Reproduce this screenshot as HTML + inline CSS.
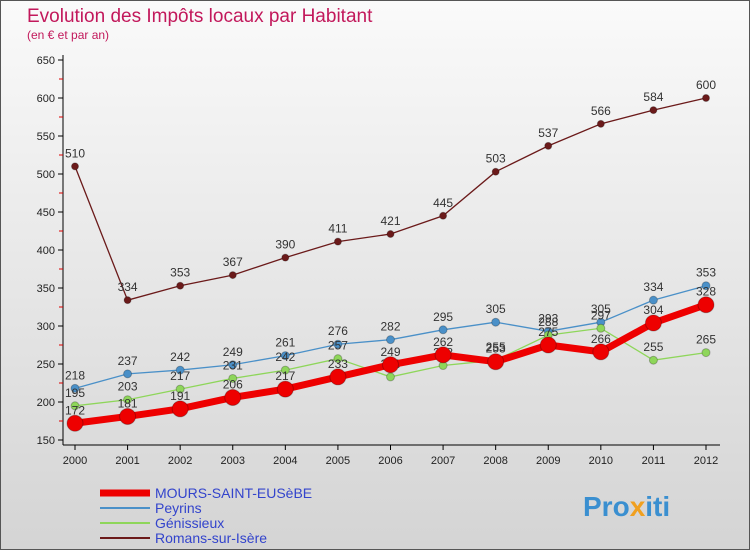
<!DOCTYPE html>
<html><head><meta charset="utf-8"><style>
body{margin:0;width:750px;height:550px;overflow:hidden;font-family:"Liberation Sans",sans-serif}
svg text{font-family:"Liberation Sans",sans-serif}
</style></head><body>
<svg id="c" width="750" height="550" xmlns="http://www.w3.org/2000/svg">
<defs><linearGradient id="bg" x1="0" y1="0" x2="0" y2="1"><stop offset="0" stop-color="#fafafa"/><stop offset="1" stop-color="#d4d4d4"/></linearGradient></defs>
<rect x="0.5" y="0.5" width="749" height="549" fill="url(#bg)" stroke="#555"/>
<text x="27" y="22" font-size="19" fill="#c2185b">Evolution des Impôts locaux par Habitant</text>
<text x="27" y="39" font-size="12" fill="#c2185b">(en € et par an)</text>
<g id="axes"></g><g id="series"></g><g id="legend"></g>
<text x="583" y="516" font-size="28" font-weight="bold" fill="#3a8fd0">Pro<tspan fill="#f0a020">x</tspan>iti</text>
</svg>
<script>
const years=[2000,2001,2002,2003,2004,2005,2006,2007,2008,2009,2010,2011,2012];
const yTicks=[150,200,250,300,350,400,450,500,550,600,650];
const mours=[172,181,191,206,217,233,249,262,253,275,266,304,328];
const peyrins=[218,237,242,249,261,276,282,295,305,293,305,334,353];
const genissieux=[195,203,217,231,242,257,233,248,255,288,297,255,265];
const romans=[510,334,353,367,390,411,421,445,503,537,566,584,600];
const NS="http://www.w3.org/2000/svg";
const X=i=>75+i*(706-75)/12;
const Y=v=>440-(v-150)*0.76;
function mk(tag,attrs,parent){const e=document.createElementNS(NS,tag);for(const k in attrs)e.setAttribute(k,attrs[k]);parent.appendChild(e);return e;}
const ax=document.getElementById('axes');
let yl=mk('line',{x1:63,y1:55,x2:63,y2:445,stroke:'#000'},ax);


let xl=mk('line',{x1:63,y1:445,x2:720,y2:445,stroke:'#000'},ax);


yTicks.forEach(v=>{
 mk('line',{x1:58,y1:Y(v),x2:63,y2:Y(v),stroke:'#000'},ax);
 if(v<650)mk('line',{x1:59,y1:Y(v+25),x2:63,y2:Y(v+25),stroke:'#d00'},ax);
 const t=mk('text',{x:55,y:Y(v)+4,'font-size':11,'text-anchor':'end',fill:'#222'},ax);
 t.textContent=v;
 
 
});
years.forEach((yr,i)=>{
 mk('line',{x1:X(i),y1:445,x2:X(i),y2:450,stroke:'#000'},ax);
 const t=mk('text',{x:X(i),y:464,'font-size':11,'text-anchor':'middle',fill:'#222'},ax);
 t.textContent=yr;
 
 
});
const sg=document.getElementById('series');
const defs=[
 {name:'romans',data:romans,color:'#6b1a1a',w:1.3,r:3.5},
 {name:'peyrins',data:peyrins,color:'#4a90c8',w:1.3,r:4},
 {name:'genissieux',data:genissieux,color:'#8ed65a',w:1.3,r:4},
 {name:'mours',data:mours,color:'#ee0000',w:7,r:8}];
defs.forEach(s=>{
 const g=mk('g',{},sg);
 
 
 const pl=mk('polyline',{points:s.data.map((v,i)=>X(i)+','+Y(v)).join(' '),fill:'none',stroke:s.color,'stroke-width':s.w},g);
 
 
 s.data.forEach((v,i)=>{
  const c=mk('circle',{cx:X(i),cy:Y(v),r:s.r,fill:s.color,stroke:'rgba(0,0,0,0.25)'},g);
  
  
  const t=mk('text',{x:X(i),y:Y(v)-9,'font-size':12,'text-anchor':'middle',fill:'#333'},g);
  t.textContent=v;
  
  
 });
});
const lg=document.getElementById('legend');
const items=[['MOURS-SAINT-EUSèBE','#ee0000',7],['Peyrins','#4a90c8',2],['Génissieux','#8ed65a',2],['Romans-sur-Isère','#6b1a1a',2]];
items.forEach((it,k)=>{
 const y=493+k*15;
 const g=mk('g',{},lg);
 
 
 mk('line',{x1:100,y1:y,x2:150,y2:y,stroke:it[1],'stroke-width':it[2]},g);
 const t=mk('text',{x:155,y:y+5,'font-size':14,fill:'#3344cc'},g);
 t.textContent=it[0];
});
</script>
</body></html>
